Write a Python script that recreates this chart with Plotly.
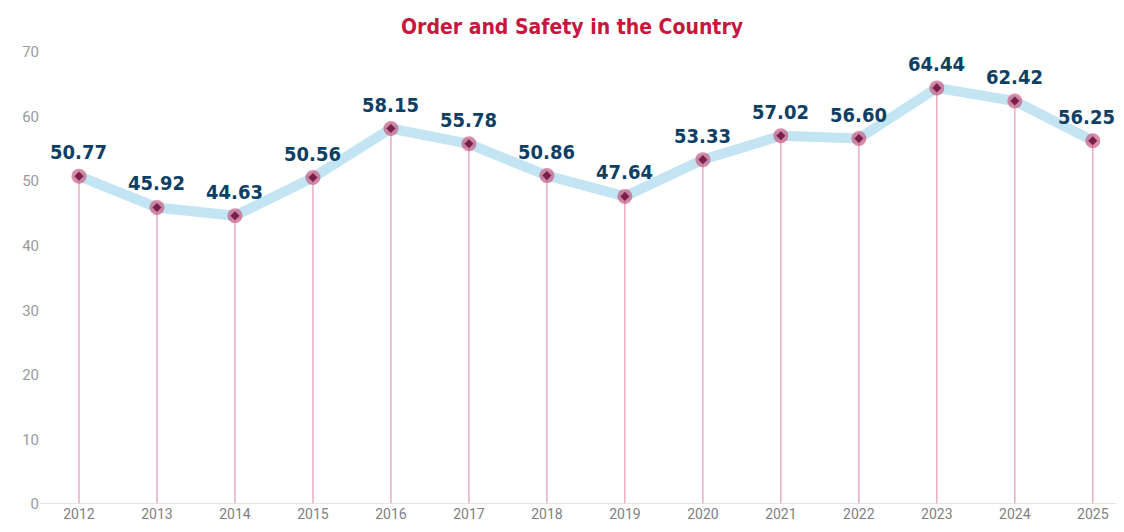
import plotly.graph_objects as go

years = ["2012", "2013", "2014", "2015", "2016", "2017", "2018", "2019", "2020",
         "2021", "2022", "2023", "2024", "2025"]
values = [50.77, 45.92, 44.63, 50.56, 58.15, 55.78, 50.86, 47.64, 53.33,
          57.02, 56.60, 64.44, 62.42, 56.25]
y_ticks = [0, 10, 20, 30, 40, 50, 60, 70]

xs = list(range(len(years)))
FONT = "Liberation Sans Narrow, DejaVu Sans Condensed, Roboto Condensed, Arial Narrow, sans-serif"

fig = go.Figure()

# drop lines
fig.add_trace(go.Scatter(
    x=xs, y=values, mode="markers",
    marker=dict(size=1, color="rgba(0,0,0,0)"),
    error_y=dict(type="data", symmetric=False, array=[0] * len(values),
                 arrayminus=values, color="#e29aae", thickness=1.2, width=0),
    hoverinfo="skip", showlegend=False))

# thick light blue line
fig.add_trace(go.Scatter(
    x=xs, y=values, mode="lines",
    line=dict(color="#c2e4f3", width=10),
    hoverinfo="skip", showlegend=False))

# outer circle markers
fig.add_trace(go.Scatter(
    x=xs, y=values, mode="markers",
    marker=dict(size=15, color="rgba(200,80,120,0.65)", line=dict(width=0)),
    showlegend=False))

# inner diamond markers
fig.add_trace(go.Scatter(
    x=xs, y=values, mode="markers",
    marker=dict(size=7, symbol="diamond", color="#7a1f4c", line=dict(width=0)),
    hoverinfo="skip", showlegend=False))

for i, (x, v) in enumerate(zip(xs, values)):
    fig.add_annotation(x=x, y=v, text=f"<b>{v:.2f}</b>", showarrow=False,
                       yshift=24, xshift=-6 if i == len(xs) - 1 else 0,
                       font=dict(family=FONT, size=20, color="#0d3f66"))

fig.update_layout(
    width=1116, height=524,
    margin=dict(l=32, r=0, t=44, b=28),
    paper_bgcolor="white", plot_bgcolor="white",
    title=dict(text="<b>Order and Safety in the Country</b>", x=0.5054, xanchor="center",
               y=1 - 19 / 524, yanchor="middle",
               font=dict(family=FONT, size=21, color="#c8163f")),
    xaxis=dict(tickvals=xs, ticktext=years, range=[-0.5, 13.4], showgrid=False,
               zeroline=False, showline=False, ticks="",
               tickfont=dict(family="Roboto, Arial", size=14, color="#7f7f7f")),
    yaxis=dict(range=[0, 70], tickvals=y_ticks, showgrid=False, zeroline=False,
               showline=False, ticks="",
               tickfont=dict(family="Roboto, Arial", size=15, color="#9a9a9a")),
    shapes=[dict(type="line", xref="paper", yref="y", x0=0, x1=1, y0=0, y1=0,
                 line=dict(color="#dddddd", width=1.5))],
)

fig.write_html("out.html")
